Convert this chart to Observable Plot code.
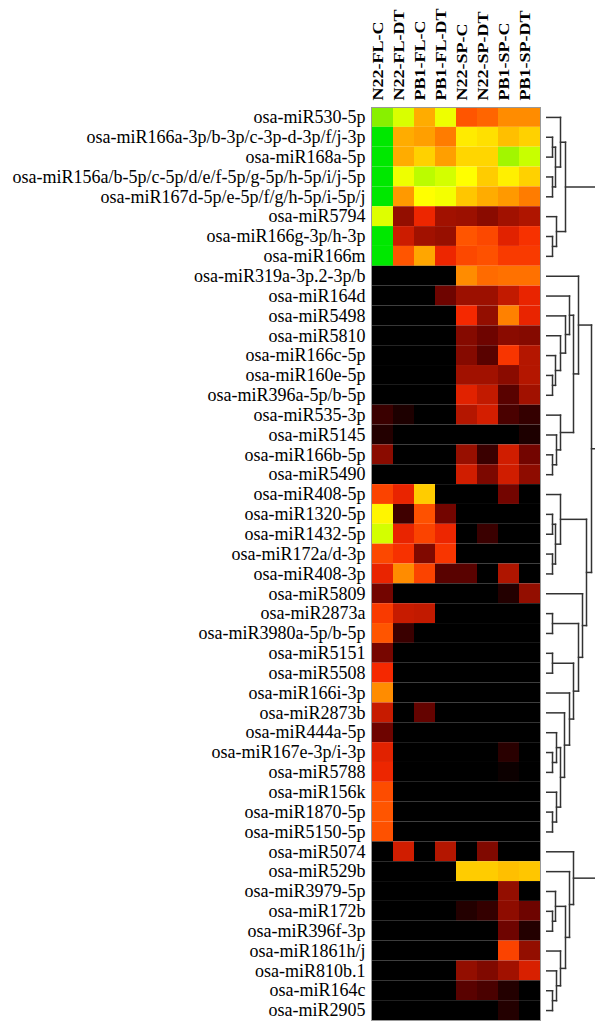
<!DOCTYPE html>
<html><head><meta charset="utf-8">
<script src="https://cdn.jsdelivr.net/npm/d3@7"></script>
<script src="https://cdn.jsdelivr.net/npm/@observablehq/plot@0.6"></script>
<style>
html,body{margin:0;padding:0;background:#fff;}
#wrap{position:relative;width:595px;height:1021px;overflow:hidden;}
#wrap svg{position:absolute;left:0;top:0;}
</style>
</head><body><div id="wrap"></div>
<script>
const cols = ["N22-FL-C","N22-FL-DT","PB1-FL-C","PB1-FL-DT","N22-SP-C","N22-SP-DT","PB1-SP-C","PB1-SP-DT"];
const rows = [
"osa-miR530-5p","osa-miR166a-3p/b-3p/c-3p-d-3p/f/j-3p","osa-miR168a-5p",
"osa-miR156a/b-5p/c-5p/d/e/f-5p/g-5p/h-5p/i/j-5p","osa-miR167d-5p/e-5p/f/g/h-5p/i-5p/j",
"osa-miR5794","osa-miR166g-3p/h-3p","osa-miR166m","osa-miR319a-3p.2-3p/b","osa-miR164d",
"osa-miR5498","osa-miR5810","osa-miR166c-5p","osa-miR160e-5p","osa-miR396a-5p/b-5p",
"osa-miR535-3p","osa-miR5145","osa-miR166b-5p","osa-miR5490","osa-miR408-5p",
"osa-miR1320-5p","osa-miR1432-5p","osa-miR172a/d-3p","osa-miR408-3p","osa-miR5809",
"osa-miR2873a","osa-miR3980a-5p/b-5p","osa-miR5151","osa-miR5508","osa-miR166i-3p",
"osa-miR2873b","osa-miR444a-5p","osa-miR167e-3p/i-3p","osa-miR5788","osa-miR156k",
"osa-miR1870-5p","osa-miR5150-5p","osa-miR5074","osa-miR529b","osa-miR3979-5p",
"osa-miR172b","osa-miR396f-3p","osa-miR1861h/j","osa-miR810b.1","osa-miR164c","osa-miR2905"];
const values = [
[11,9.7,7.5,9.3,6,6.3,7,7],
[12,7.5,7.3,6.7,8.6,8.4,7.8,8.1],
[12,7.5,8.1,7.3,8.2,8.2,10.6,10],
[12,9.3,10.2,9.8,9,8,8.7,8.1],
[12,7.2,9,9.2,7.9,7.5,7.2,6.7],
[9.6,2.8,4.8,3.1,3,2.6,3.1,3.4],
[12,4,3.1,2.9,6,5.7,4.5,5.2],
[12,6,7.4,4.8,5.7,5.9,5.4,5.4],
[0,0,0,0,7,6.4,6.5,6.5],
[0,0,0,2,3,3,3.8,4.7],
[0,0,0,0,5,2.8,6.8,4.7],
[0,0,0,0,2.5,2,2.6,2.5],
[0,0,0,0,2.5,1.6,5.3,3.5],
[0,0,0,0,3.1,3.1,2.6,3.5],
[0,0,0,0,4.5,3.8,1.6,3.1],
[1,0.5,0,0,3.5,4.2,1.3,0.9],
[0.6,0,0,0,0,0,0,0.5],
[2.6,0,0,0,2.9,1,4.1,2.1],
[0,0,0,0,4.1,2.3,4.1,2.7],
[5.6,4.7,8,0,0,0,2.1,0],
[8.8,1.1,5.9,2.1,0,0,0,0],
[9.8,4.7,5.6,4.8,0,1,0,0],
[5.7,5.2,2.4,5.3,0,0,0,0],
[4.7,7,5.6,1.6,1.6,0,3.4,0],
[2.1,0,0,0,0,0,0.6,2.8],
[5.4,3.9,3.8,0,0,0,0,0],
[6,1,0,0,0,0,0,0],
[2.2,0,0,0,0,0,0,0],
[5,0,0,0,0,0,0,0],
[7,0,0,0,0,0,0,0],
[3.9,0,1.8,0,0,0,0,0],
[2,0,0,0,0,0,0,0],
[4.5,0,0,0,0,0,0.7,0],
[4.8,0,0,0,0,0,0.2,0],
[5.8,0,0,0,0,0,0,0],
[6,0,0,0,0,0,0,0],
[5.9,0,0,0,0,0,0,0],
[0,4.1,0,3.5,0,2.4,0,0],
[0,0,0,0,8,8,7.8,7.9],
[0,0,0,0,0,0,2.8,0],
[0,0,0,0,0.6,0.9,2.7,2],
[0,0,0,0,0,0,2,0.6],
[0,0,0,0,0,0,5.6,2.8],
[0,0,0,0,2.8,2.4,3.1,4.3],
[0,0,0,0,1.6,1.3,0.6,0],
[0,0,0,0,0,0,0.6,0]];
const colorStops = [0,1,2,3,4,5,6,7,8,9,10,11,12];
const colorRange = ["#000000","#3a0000","#6e0400","#9c1000","#cc1c00","#f52800","#ff5500","#ff8c00","#ffcc00","#ffff00","#c8ff00","#88f000","#00e800"];
// hierarchical merges: [a, b, height]; negative = leaf row (1-based), positive = earlier merge (1-based)
const merges = [
[-2,-3,6],[-4,-5,6],[1,2,9],[-1,3,14],[-7,-8,6],[-6,5,10],[4,6,19],
[-14,-15,6],[-13,8,9],[-12,9,14],[-11,10,19],[-10,11,23],
[-18,-19,6],[-17,13,10],[-16,14,14],[12,15,27],[-9,16,32],
[-21,-22,6],[-23,-24,6],[18,19,9],[-20,20,14],
[-26,-27,6],[-28,-29,6],[-33,-34,6],[-32,24,10],[-36,-37,6],[-35,26,10],
[25,27,14],[-31,28,18],[-30,29,23],[23,30,27],[22,31,32],[-25,32,36],[21,33,40],[17,34,45],
[-41,-42,6],[-40,36,9],[-45,-46,6],[-44,38,10],[-43,39,14],[37,40,19],[-39,41,23],[-38,42,27],
[7,35,52],[44,43,56]];

const cells = rows.flatMap((r,i)=>cols.map((c,j)=>({row:r,col:c,v:values[i][j]})));

const heat = Plot.plot({
  width:595, height:1021, marginLeft:371, marginRight:55, marginTop:107, marginBottom:1,
  style:{fontFamily:"'Liberation Serif', 'Times New Roman', serif", background:"transparent"},
  x:{domain:cols, padding:0, axis:null},
  y:{domain:rows, padding:0, axis:null},
  color:{type:"linear", domain:colorStops, range:colorRange, interpolate:"rgb"},
  marks:[
    Plot.cell(cells,{x:"col",y:"row",fill:"v"}),
    Plot.frame({stroke:"#999",strokeWidth:1}),
    Plot.text(rows,{y:d=>d, frameAnchor:"left", textAnchor:"end", dx:-6, fontSize:18, fill:"#000"}),
    Plot.text(cols,{x:d=>d, frameAnchor:"top", dy:-7, rotate:-90, textAnchor:"start", lineAnchor:"bottom", fontWeight:"bold", fontSize:18, fill:"#000"})
  ]
});
// column labels are drawn narrow and tall in the reference
{
  const groups = heat.querySelectorAll("g[aria-label='text']");
  const g = groups[groups.length-1];
  g.querySelectorAll("text").forEach(t=>{
    const tr = t.getAttribute("transform") || "";
    t.setAttribute("transform", tr + " scale(1,0.78)");
  });
}

const nodes = [];
const segs = [];
const pos = k => k < 0 ? {y:-k-0.5, h:0} : nodes[k-1];
merges.forEach(([a,b,h])=>{
  const A = pos(a), B = pos(b);
  segs.push({x1:A.h,y1:A.y,x2:h,y2:A.y},{x1:B.h,y1:B.y,x2:h,y2:B.y},{x1:h,y1:A.y,x2:h,y2:B.y});
  nodes.push({y:(A.y+B.y)/2, h});
});

const dendro = Plot.plot({
  width:595, height:1021, marginLeft:546, marginRight:0, marginTop:107, marginBottom:1,
  style:{background:"transparent"},
  x:{domain:[0,49], axis:null},
  y:{domain:[0,rows.length], reverse:true, axis:null},
  marks:[
    Plot.link(segs,{x1:"x1",y1:"y1",x2:"x2",y2:"y2", stroke:"#333", strokeWidth:1.5, strokeLinecap:"square", clip:true})
  ]
});

const wrap = document.getElementById("wrap");
wrap.appendChild(heat);
wrap.appendChild(dendro);
</script>
</body></html>
